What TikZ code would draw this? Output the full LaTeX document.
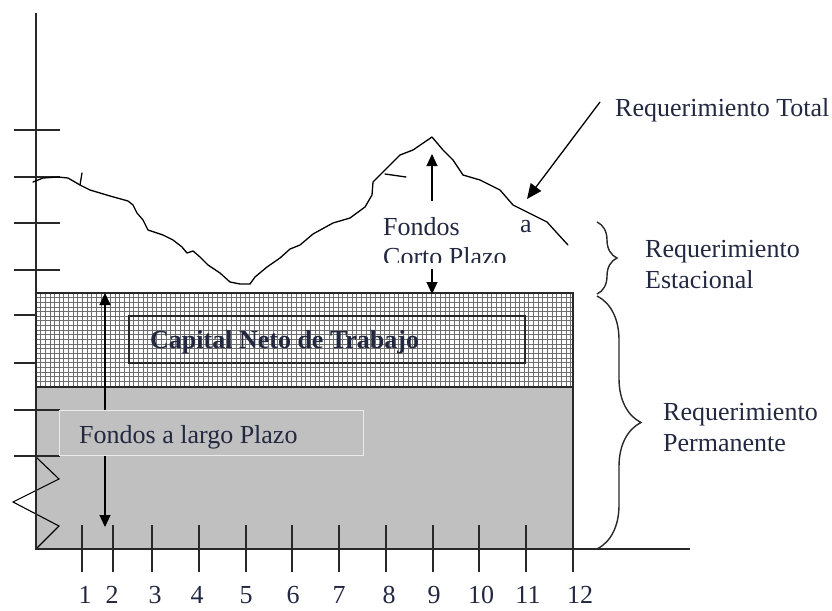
\documentclass[tikz,border=0pt]{standalone}
\usepackage{fontspec}
\setmainfont{Liberation Serif}
\usetikzlibrary{arrows.meta,decorations.pathreplacing}
\definecolor{txt}{RGB}{35,40,65}
\definecolor{ax}{RGB}{40,40,40}
\definecolor{fillgrey}{RGB}{192,192,192}
\definecolor{gridgrey}{RGB}{110,110,110}
\tikzset{
  axisline/.style={draw=ax,line width=1.5pt},
  tickline/.style={draw=ax,line width=1.4pt},
  lbl/.style={inner sep=0pt,text=txt,font=\fontsize{26}{31}\selectfont},
  arr/.style={draw=black,line width=1.2pt,-{Triangle[length=12pt,width=11pt]}},
  curveline/.style={draw=black,line width=1.3pt,line join=round,line cap=round},
  bracestyle/.style={draw=ax,line width=1.4pt,decorate},
  gridline/.style={draw=gridgrey,line width=0.9pt}
}
\begin{document}
\begin{tikzpicture}[x=1pt,y=-1pt]
\useasboundingbox (0,0) rectangle (832,610);
% left ticks
\foreach \yy in {130,177,223,270,410,456} \draw[tickline] (14,\yy) -- (60,\yy);
\foreach \yy in {315,363} \draw[tickline] (14,\yy) -- (36,\yy);
% grey region
\fill[fillgrey] (36,387) rectangle (573,549);
\foreach \yy in {410,456} \draw[tickline] (36,\yy) -- (60,\yy);
% hatched region
\fill[white] (36,293) rectangle (573,387);
\foreach \k in {1,...,20} \draw[gridline] (36,293+\k*4.65) -- (573,293+\k*4.65);
\foreach \k in {1,...,115} \draw[gridline] (36+\k*4.65,293) -- (36+\k*4.65,387);
\draw[draw=ax,line width=1.2pt] (36,293) rectangle (573,549);
\draw[draw=ax,line width=1.2pt] (36,387) -- (573,387);
% zigzag
\draw[draw=black,line width=1.1pt] (36,457) -- (59,479) -- (13,502) -- (59,526) -- (36,549);
% axes
\coordinate (ytop) at (36,13);
\coordinate (orig) at (36,549);
\coordinate (xend) at (690,549);
\draw[axisline] (ytop) -- (orig) -- (xend);
% x ticks and labels
\foreach \xx in {82,113,152,199,246,292,339,386,433,479,526,573} \draw[tickline] (\xx,525) -- (\xx,572);
\foreach \xx/\n in {85/1,112/2,155/3,197/4,246/5,293/6,339/7,389/8,434/9,481/10,528/11,580/12}
  \node[lbl] (n\n) at (\xx,595) {\n};
% double arrow
\coordinate (la) at (105,387);
\coordinate (ltop) at (105,293);
\coordinate (lbot) at (105,527);
\draw[arr] (la) -- (ltop);
\draw[arr] (la) -- (lbot);
% capital neto box
\draw[draw=ax,line width=1.8pt] (129,316) rectangle (525,363);
\node[lbl,anchor=west,font=\fontsize{26}{31}\selectfont\bfseries] (cnt) at (150,342) {Capital Neto de Trabajo};
% fondos a largo plazo box
\node[lbl,draw={rgb,255:red,235;green,235;blue,235},line width=1pt,fill=fillgrey,minimum width=304pt,minimum height=45pt,anchor=north west] (flp) at (59,410) {};
\node[lbl,anchor=west] (flpt) at (79,437) {Fondos a largo Plazo};
% curve
\draw[curveline] (33,182) -- (43,178) -- (58,177) -- (68,178) -- (80,185) -- (90,190) -- (110,196) -- (128,201) -- (133,205) -- (137,213) -- (143,220) -- (148,230) -- (163,235) -- (173,240) -- (182,247) -- (187,253) -- (193,251) -- (200,257) -- (208,265) -- (220,273) -- (230,282) -- (240,284) -- (250,284) -- (255,277) -- (267,267) -- (280,258) -- (290,249) -- (300,245) -- (313,234) -- (333,223) -- (350,218) -- (365,207) -- (372,195) -- (373,182) -- (380,175) -- (388,167) -- (400,155) -- (413,150) -- (432,137) -- (443,150) -- (453,160) -- (463,175) -- (480,180) -- (500,190) -- (513,205) -- (533,215) -- (547,222) -- (557,233) -- (568,245);
\draw[curveline] (80,185) -- (82,173);
\draw[curveline] (385,174) -- (406,177);
% fondos a corto plazo
\begin{scope}
\clip (360,195) rectangle (552,262);
\node[lbl,anchor=west] (fcp1) at (383,227) {Fondos};
\node[lbl,anchor=west] (fcp2) at (520,227) {a};
\node[lbl,anchor=west] (fcp3) at (383,257) {Corto Plazo};
\end{scope}
\coordinate (upa) at (432,201);
\coordinate (upb) at (432,154);
\draw[arr] (upa) -- (upb);
\coordinate (dna) at (432,269);
\coordinate (dnb) at (432,294);
\draw[arr] (dna) -- (dnb);
% requerimiento total
\node[lbl,anchor=west] (rt) at (615,110) {Requerimiento Total};
\coordinate (rta) at (600,102);
\coordinate (rtb) at (527,199);
\draw[draw=black,line width=1.3pt,-{Triangle[length=15pt,width=13pt]}] (rta) -- (rtb);
% braces
\draw[bracestyle,decoration={brace,amplitude=20pt}] (597,222) -- (597,294);
\node[lbl,anchor=west,align=left] (re) at (645,265) {Requerimiento\\Estacional};
\draw[bracestyle,decoration={brace,amplitude=44pt}] (597,296) -- (597,549);
\node[lbl,anchor=west,align=left] (rp) at (663,428) {Requerimiento\\Permanente};
\end{tikzpicture}
\end{document}
